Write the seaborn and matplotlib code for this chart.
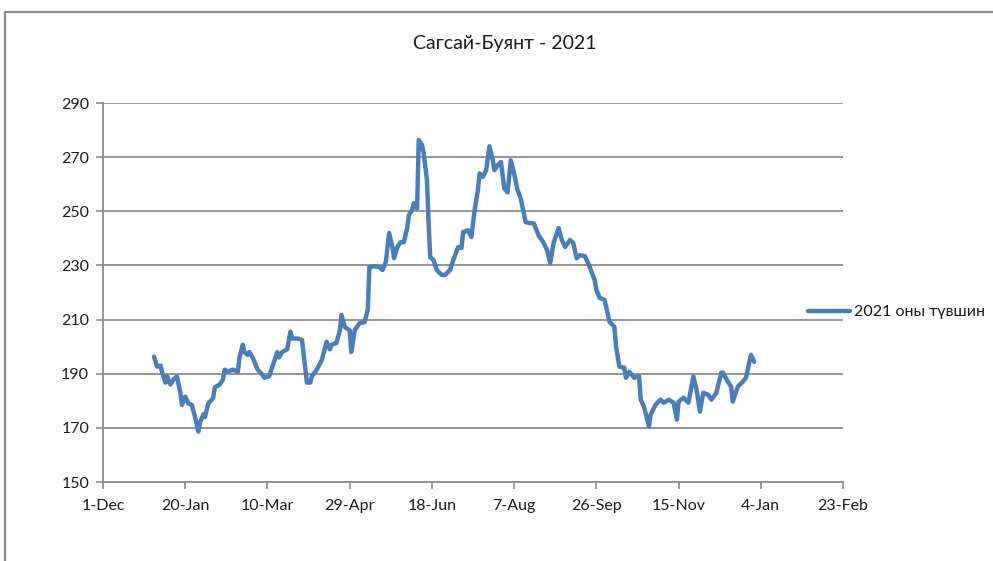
import matplotlib
matplotlib.use("Agg")
import matplotlib.pyplot as plt
from matplotlib.lines import Line2D
import seaborn as sns
import pandas as pd

# ---- data ----
title = "Сагсай-Буянт - 2021"
series_name = "2021 оны түвшин"
base_date = "2020-01-01"
day_of_year = [0, 2, 4, 5, 7, 8, 10, 12, 14, 16, 17, 19, 21, 23, 25, 27, 28, 30, 31, 33,
               36, 37, 40, 42, 43, 45, 48, 51, 52, 54, 55, 57, 58, 60, 63, 66, 67, 70, 72, 75,
               76, 78, 81, 83, 84, 87, 90, 92, 93, 95, 96, 99, 102, 105, 107, 108, 111, 113, 114, 116,
               119, 120, 122, 125, 128, 130, 131, 134, 137, 139, 141, 143, 145, 146, 148, 150, 152, 154, 155, 157,
               158, 160, 161, 163, 164, 166, 167, 168, 170, 172, 175, 177, 180, 182, 185, 187, 188, 191, 193, 195,
               197, 198, 200, 202, 204, 206, 207, 209, 211, 213, 215, 217, 219, 221, 223, 226, 228, 231, 234, 237,
               239, 241, 243, 246, 248, 250, 253, 255, 257, 259, 262, 264, 268, 269, 271, 274, 277, 280, 281, 283,
               286, 287, 289, 292, 295, 296, 298, 301, 302, 305, 308, 310, 313, 316, 318, 319, 322, 325, 328, 330,
               332, 334, 337, 339, 342, 345, 346, 349, 351, 352, 355, 358, 360, 363, 365]
level = [196.3, 192.6, 193.0, 190.4, 186.7, 189.0, 186.0, 188.0, 189.0, 183.0, 178.5, 181.5, 179.0, 178.5, 174.0, 168.6, 172.0, 175.0, 174.0, 179.0,
         181.0, 185.0, 186.0, 188.0, 191.5, 190.8, 191.5, 190.7, 196.0, 200.7, 198.0, 197.0, 198.0, 196.0, 191.5, 189.6, 188.5, 189.0, 192.6, 198.0,
         196.0, 198.0, 199.0, 205.5, 203.0, 203.0, 202.5, 192.0, 186.7, 186.7, 189.0, 191.5, 195.0, 201.8, 199.0, 200.7, 201.4, 206.0, 211.7, 207.3,
         206.0, 198.0, 206.0, 208.7, 209.0, 213.5, 229.4, 229.7, 229.4, 228.3, 231.3, 242.0, 236.8, 232.7, 236.8, 238.6, 238.6, 244.0, 248.6, 250.5,
         253.0, 251.0, 276.3, 274.5, 271.5, 261.6, 245.7, 233.0, 232.0, 228.3, 226.5, 226.5, 228.3, 232.0, 236.8, 236.4, 242.3, 243.0, 240.5, 250.5,
         257.9, 264.0, 262.7, 265.2, 274.0, 269.0, 265.2, 267.0, 268.2, 258.5, 257.0, 268.8, 264.0, 258.0, 254.8, 246.0, 245.7, 245.5, 241.0, 238.3,
         235.7, 230.9, 238.3, 243.8, 239.4, 236.8, 239.4, 238.3, 232.7, 233.8, 233.4, 230.9, 224.6, 221.0, 218.0, 217.3, 209.2, 207.3, 200.0, 192.6,
         192.2, 188.5, 190.7, 188.5, 189.0, 180.4, 177.8, 170.4, 174.9, 178.5, 180.4, 179.3, 180.4, 179.3, 173.0, 179.7, 181.1, 179.3, 189.0, 184.0,
         176.0, 183.0, 182.2, 180.4, 183.0, 190.4, 190.4, 187.0, 185.2, 179.7, 185.2, 187.0, 188.5, 197.0, 194.4]
x_start = "2019-12-01"
x_end = "2021-02-23"
tick_step_days = 50
y_ticks = [150, 170, 190, 210, 230, 250, 270, 290]

df = pd.DataFrame({
    "date": pd.to_datetime(base_date) + pd.to_timedelta(day_of_year, unit="D"),
    "level": level,
})

sns.set_theme(style="white")
plt.rcParams["font.family"] = ["Lato", "DejaVu Sans"]

fig = plt.figure(figsize=(9.93, 5.61), dpi=100)
ax = fig.add_axes([103/993, 1-482/561, (843-103)/993, (482-103)/561])

line_color = "#4A7EBB"
sns.lineplot(data=df, x="date", y="level", ax=ax, color=line_color, linewidth=3.2,
             label=series_name, legend=False)
ax.get_lines()[0].set_solid_joinstyle("round")

ax.set_xlim(pd.Timestamp(x_start), pd.Timestamp(x_end))
ax.set_ylim(y_ticks[0], y_ticks[-1])
xt = pd.date_range(x_start, x_end, freq=f"{tick_step_days}D")
ax.set_xticks(xt)
ax.set_xticklabels([f"{d.day}-{d.strftime('%b')}" for d in xt])
ax.set_yticks(y_ticks)
ax.set_xlabel("")
ax.set_ylabel("")

grid_c = "#8c8c8c"
txt_c = "#1a1a1a"
ax.yaxis.grid(True, color=grid_c, linewidth=1.3)
ax.xaxis.grid(False)
ax.set_axisbelow(True)
for s in ["top", "right"]:
    ax.spines[s].set_visible(False)
for s in ["left", "bottom"]:
    ax.spines[s].set_color(grid_c)
    ax.spines[s].set_linewidth(1.3)
ax.tick_params(axis="x", direction="out", length=5, width=1.2, color=grid_c,
               labelsize=11.5, labelcolor=txt_c, pad=7)
ax.tick_params(axis="y", direction="out", length=5, width=1.2, color=grid_c,
               labelsize=11.5, labelcolor=txt_c, pad=5)
ax.tick_params(bottom=True, left=True)

fig.text(505/993, 1-43/561, title, ha="center", va="center", fontsize=14, color=txt_c)

leg = ax.legend(handles=ax.get_lines()[:1], labels=[series_name], loc="center left",
                bbox_to_anchor=(808/993, 1-312/561), bbox_transform=fig.transFigure,
                frameon=False, fontsize=11.5, handlelength=2.6, handletextpad=0.25,
                borderaxespad=0, borderpad=0)
for t in leg.get_texts():
    t.set_color(txt_c)

# outer chart-area border (only top and left edges fall inside the image)
fig.add_artist(Line2D([5/993, 1.0], [1-12/561, 1-12/561], transform=fig.transFigure,
                      color="#8c8c8c", linewidth=1.6))
fig.add_artist(Line2D([5/993, 5/993], [0.0, 1-12/561], transform=fig.transFigure,
                      color="#8c8c8c", linewidth=1.6))

fig.savefig("out.png", dpi=100, facecolor="white")
